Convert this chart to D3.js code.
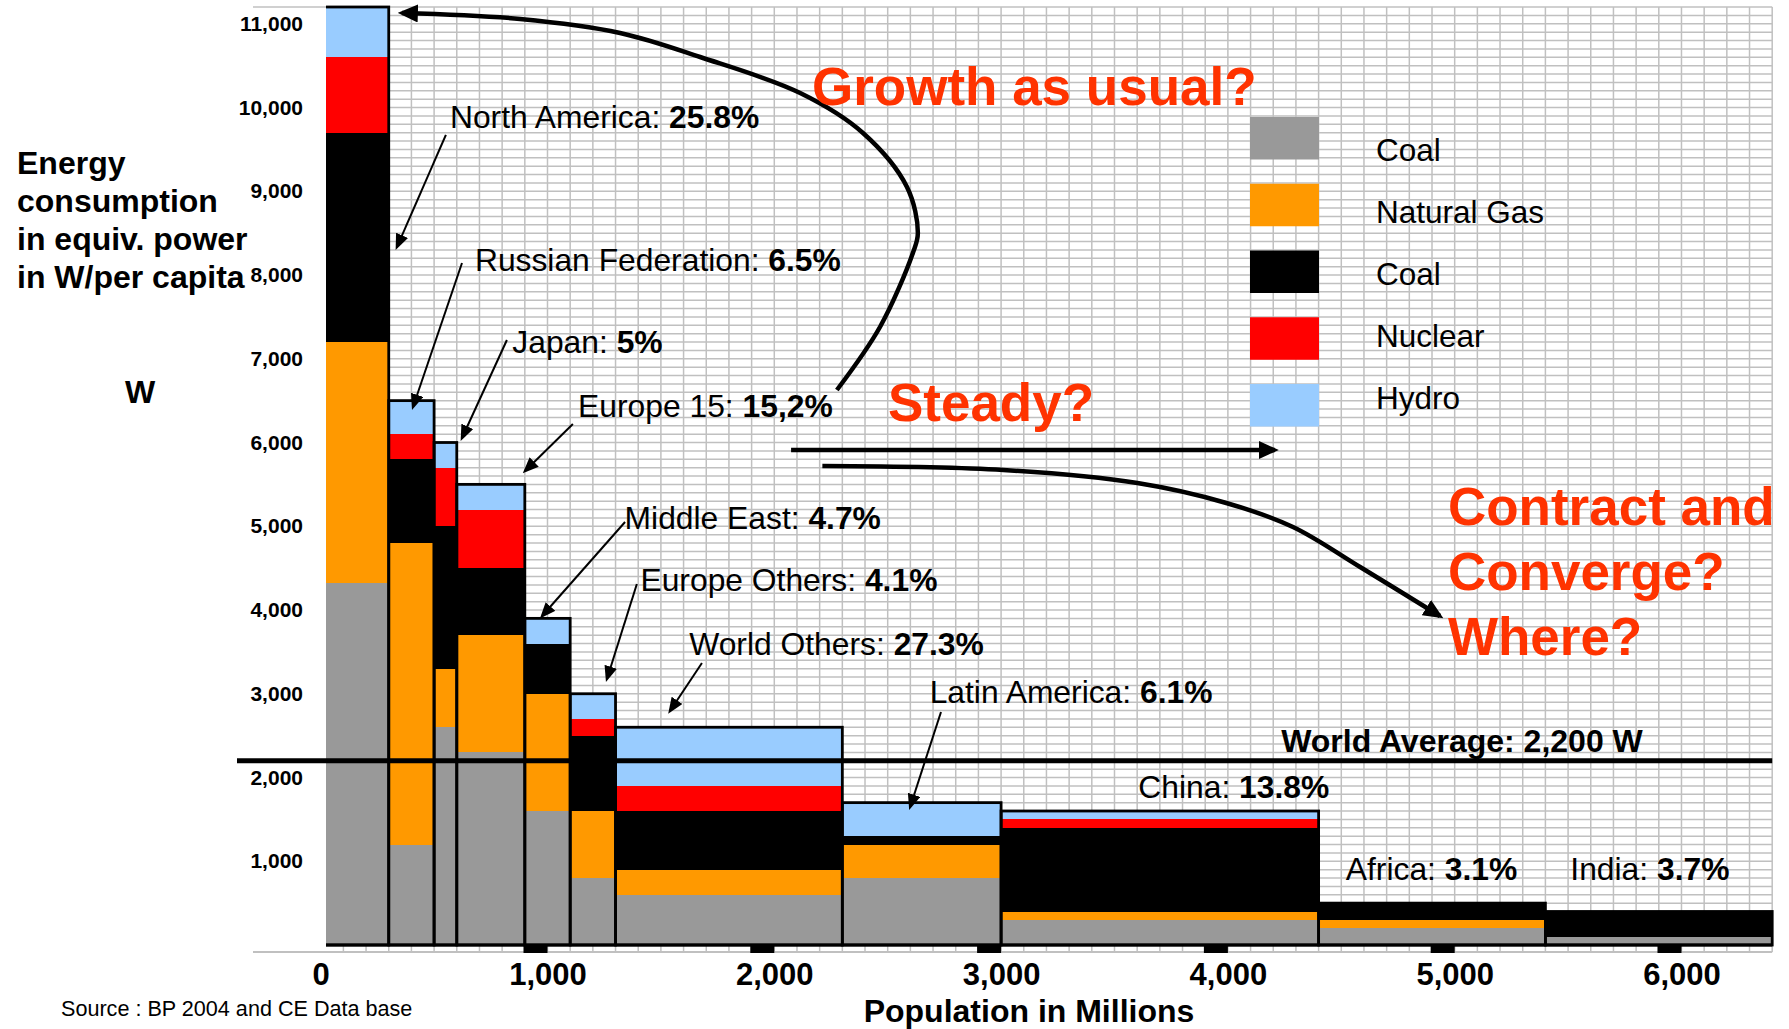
<!DOCTYPE html>
<html>
<head>
<meta charset="utf-8">
<script src="https://cdn.jsdelivr.net/npm/d3@7"></script>
<style>
  html, body { margin: 0; padding: 0; background: #fff; }
  svg { display: block; }
  text { font-family: "Liberation Sans", Arial, Helvetica, sans-serif; white-space: pre; }
</style>
</head>
<body>
<svg id="chart" width="1789" height="1029"></svg>
<script>
// ---- Data -------------------------------------------------------------
// Regions laid out left to right; bar width = population, bar height = W per capita
const regions = ["North America", "Russian Federation", "Japan", "Europe 15", "Middle East",
  "Europe Others", "World Others", "Latin America", "China", "Africa", "India"];
const population = [300, 200, 100, 300, 200, 200, 1000, 700, 1400, 1000, 1000]; // millions
const energyShare = ["25.8%", "6.5%", "5%", "15,2%", "4.7%", "4.1%", "27.3%", "6.1%", "13.8%", "3.1%", "3.7%"];

// Per-capita power by source (W), stacked bottom to top
const coalGrey   = [4320, 1200, 2600, 2300, 1600, 800, 600, 800, 300, 200, 100];
const naturalGas = [2880, 3600,  700, 1400, 1400, 800, 300, 400, 100, 100,   0];
const coalBlack  = [2500, 1000, 1700,  800,  600, 900, 700, 100, 1000, 200, 300];
const nuclear    = [ 900,  300,  700,  700,    0, 200, 300,   0, 100,   0,   0];
const hydro      = [ 600,  400,  300,  300,  300, 300, 700, 400, 100,   0,   0];

const sourceLabels = ["Coal", "Natural Gas", "Coal", "Nuclear", "Hydro"];
const worldAverage = 2200;
const xTickValues = [0, 1000, 2000, 3000, 4000, 5000, 6000];
const yTickValues = [1000, 2000, 3000, 4000, 5000, 6000, 7000, 8000, 9000, 10000, 11000];
const scenarios = ["Growth as usual?", "Steady?", "Contract and", "Converge?", "Where?"];

// ---- Setup ------------------------------------------------------------
const W = 1789, H = 1029;
const keys = ["coalGrey", "naturalGas", "coalBlack", "nuclear", "hydro"];
const colors = ["#999999", "#FF9900", "#000000", "#FF0000", "#99CCFF"];
const accent = "#FF3300";
const labelSize = 31.8;

let cum = 0;
const rows = regions.map((region, i) => {
  const row = {
    region, share: energyShare[i], x0: cum, x1: cum + population[i],
    coalGrey: coalGrey[i], naturalGas: naturalGas[i], coalBlack: coalBlack[i],
    nuclear: nuclear[i], hydro: hydro[i]
  };
  row.total = keys.reduce((s, k) => s + row[k], 0);
  cum += population[i];
  return row;
});
const totalPopulation = cum;

const x = d3.scaleLinear().domain([0, totalPopulation]).range([320.7, 1772.2]);
const y = d3.scaleLinear().domain([0, d3.max(rows, d => d.total)]).range([945, 7]);
const pt = (p, w) => [x(p), y(w)];
const plotLeft = 326; // the value-label column overlaps the first few pixels of the first bar

const svg = d3.select("#chart");
svg.append("rect").attr("width", W).attr("height", H).attr("fill", "#fff");

const defs = svg.append("defs");
function arrowHead(id, len, wid) {
  defs.append("marker")
    .attr("id", id).attr("viewBox", "0 0 10 10").attr("refX", 8).attr("refY", 5)
    .attr("markerUnits", "userSpaceOnUse").attr("markerWidth", len).attr("markerHeight", wid)
    .attr("preserveAspectRatio", "none").attr("orient", "auto")
    .append("path").attr("d", "M0,0L10,5L0,10Z").attr("fill", "#000");
}
arrowHead("headSmall", 16, 13);
arrowHead("headBig", 20, 18);

defs.append("clipPath").attr("id", "plotClip").append("rect")
  .attr("x", plotLeft).attr("y", 0).attr("width", x(totalPopulation) + 4 - plotLeft).attr("height", y(0) + 4);
defs.append("clipPath").attr("id", "gridClip").append("rect")
  .attr("x", plotLeft).attr("y", 0).attr("width", x(totalPopulation) + 4 - plotLeft).attr("height", y(0) + 9);

// ---- Grid -------------------------------------------------------------
const frame = svg.append("g").attr("stroke", "#c0c0c0").attr("stroke-width", 1.5);
const grid = frame.append("g").attr("clip-path", "url(#gridClip)");
grid.selectAll("line.v").data(d3.range(0, totalPopulation + 1, 100)).join("line")
  .attr("class", "v")
  .attr("x1", d => x(d)).attr("x2", d => x(d))
  .attr("y1", y.range()[1]).attr("y2", y(0) + 7);
grid.selectAll("line.h").data(d3.range(0, y.domain()[1] + 1, 100)).join("line")
  .attr("class", "h")
  .attr("x1", x(0)).attr("x2", x(totalPopulation))
  .attr("y1", d => y(d)).attr("y2", d => y(d));
// frame lines reaching out to the value labels
frame.append("line").attr("x1", 253).attr("x2", plotLeft).attr("y1", y.range()[1]).attr("y2", y.range()[1]);
frame.append("line").attr("x1", 253).attr("x2", x(totalPopulation))
  .attr("y1", y(0) + 7).attr("y2", y(0) + 7).attr("stroke-width", 2);

// ---- Stacked variable-width bars --------------------------------------
const plot = svg.append("g").attr("clip-path", "url(#plotClip)");
const stacked = d3.stack().keys(keys)(rows);
plot.append("g").attr("shape-rendering", "crispEdges")
  .selectAll("g").data(stacked).join("g")
  .attr("fill", (d, i) => colors[i])
  .selectAll("rect").data(d => d).join("rect")
  .attr("x", d => x(d.data.x0))
  .attr("width", d => x(d.data.x1) - x(d.data.x0))
  .attr("y", d => y(d[1]))
  .attr("height", d => y(d[0]) - y(d[1]));

plot.append("g").selectAll("rect").data(rows).join("rect")
  .attr("x", d => x(d.x0)).attr("width", d => x(d.x1) - x(d.x0))
  .attr("y", d => y(d.total)).attr("height", d => y(0) - y(d.total))
  .attr("fill", "none").attr("stroke", "#000").attr("stroke-width", 2.8);

svg.append("line").attr("x1", plotLeft).attr("x2", x(totalPopulation))
  .attr("y1", y(0)).attr("y2", y(0)).attr("stroke", "#000").attr("stroke-width", 3);

// tick markers under the baseline
svg.append("g").selectAll("rect").data(xTickValues.filter(v => v > 0)).join("rect")
  .attr("x", d => x(d) - 24).attr("width", 24)
  .attr("y", y(0)).attr("height", 8).attr("fill", "#000");

// world average line
svg.append("line").attr("x1", 237).attr("x2", x(totalPopulation))
  .attr("y1", y(worldAverage)).attr("y2", y(worldAverage))
  .attr("stroke", "#000").attr("stroke-width", 5);

// ---- Axes -------------------------------------------------------------
const xAxis = svg.append("g").attr("transform", `translate(0,${y(0)})`)
  .call(d3.axisBottom(x).tickValues(xTickValues).tickFormat(d3.format(",")).tickSize(0).tickPadding(18));
xAxis.select(".domain").remove();
xAxis.selectAll("text").attr("font-size", 31).attr("font-weight", "bold").attr("fill", "#000")
  .attr("font-family", "Liberation Sans, Arial, sans-serif");

const yAxis = svg.append("g").attr("transform", "translate(305,0)")
  .call(d3.axisLeft(y).tickValues(yTickValues).tickFormat(d3.format(",")).tickSize(0).tickPadding(2));
yAxis.select(".domain").remove();
yAxis.selectAll("text").attr("font-size", 21).attr("font-weight", "bold").attr("fill", "#000")
  .attr("font-family", "Liberation Sans, Arial, sans-serif");

svg.append("text").attr("x", 1029).attr("y", 1022).attr("text-anchor", "middle")
  .attr("font-size", 32).attr("font-weight", "bold").text("Population in Millions");

const yTitle = ["Energy", "consumption", "in equiv. power", "in W/per capita"];
svg.append("g").selectAll("text").data(yTitle).join("text")
  .attr("x", 17).attr("y", (d, i) => 174 + i * 38)
  .attr("font-size", 32).attr("font-weight", "bold").text(d => d);
svg.append("text").attr("x", 140).attr("y", 403).attr("text-anchor", "middle")
  .attr("font-size", 32).attr("font-weight", "bold").text("W");

svg.append("text").attr("x", 61).attr("y", 1016).attr("font-size", 21.6)
  .text("Source : BP 2004 and CE Data base");

// ---- Legend -----------------------------------------------------------
const legend = svg.append("g").attr("transform", "translate(1250,117)");
legend.selectAll("rect").data(sourceLabels).join("rect")
  .attr("x", 0).attr("y", (d, i) => i * 66.75).attr("width", 69).attr("height", 42.5)
  .attr("fill", (d, i) => colors[i]);
legend.selectAll("text").data(sourceLabels).join("text")
  .attr("x", 126).attr("y", (d, i) => 44 + i * 62)
  .attr("font-size", 31.5).text(d => d);

// ---- Region annotations (positions in population / watt units) --------
const labelAt = [[570, 9760], [680, 8050], [845, 7070], [1135, 6305], [1340, 4965], [1410, 4225],
  [1625, 3465], [2685, 2890], [3605, 1755], [4520, 775], [5510, 775]];
const pointers = [
  [[552, 9672], [336, 8334]], [[623, 8143], [407, 6424]], [[821, 7224], [623, 6054]],
  [[1112, 6221], [901, 5660]], [[1342, 5051], [976, 3928]], [[1394, 4310], [1262, 3176]],
  [[1681, 3367], [1540, 2794]], [[2735, 2782], [2599, 1648]], null, null, null];

rows.forEach((r, i) => {
  const [lx, ly] = pt(...labelAt[i]);
  const t = svg.append("text").attr("x", lx).attr("y", ly).attr("font-size", labelSize);
  t.append("tspan").text(r.region + ": ");
  t.append("tspan").attr("font-weight", "bold").text(r.share);
  if (pointers[i]) {
    const [a, b] = pointers[i].map(p => pt(...p));
    svg.append("line").attr("x1", a[0]).attr("y1", a[1]).attr("x2", b[0]).attr("y2", b[1])
      .attr("stroke", "#000").attr("stroke-width", 2).attr("marker-end", "url(#headSmall)");
  }
});

svg.append("text").attr("x", x(4235)).attr("y", y(worldAverage) - 9)
  .attr("font-size", 32).attr("font-weight", "bold")
  .text("World Average: " + d3.format(",")(worldAverage) + " W");

// ---- Scenario arrows --------------------------------------------------
const curve = d3.line().x(d => x(d[0])).y(d => y(d[1])).curve(d3.curveCatmullRom.alpha(0.5));
const growthPath = [[2276, 6627], [2466, 7379], [2611, 8263], [2633, 8501], [2585, 9051], [2391, 9696],
  [2114, 10173], [1673, 10603], [1320, 10890], [879, 11057], [358, 11128]];
const steadyPath = [[2074, 5911], [4207, 5911]];
const convergePath = [[2212, 5719], [3010, 5672], [3601, 5516], [3993, 5278], [4287, 4991],
  [4583, 4513], [4935, 3928]];
[growthPath, steadyPath, convergePath].forEach(p => {
  svg.append("path").attr("d", curve(p)).attr("fill", "none")
    .attr("stroke", "#000").attr("stroke-width", 4.5).attr("marker-end", "url(#headBig)");
});

const scenarioAt = [[2166, 10030], [2501, 6257], [4970, 5015], [4970, 4239], [4970, 3463]];
svg.append("g").selectAll("text").data(scenarios).join("text")
  .attr("x", (d, i) => x(scenarioAt[i][0])).attr("y", (d, i) => y(scenarioAt[i][1]))
  .attr("font-size", 53).attr("font-weight", "bold").attr("fill", accent).text(d => d);
</script>
</body>
</html>
